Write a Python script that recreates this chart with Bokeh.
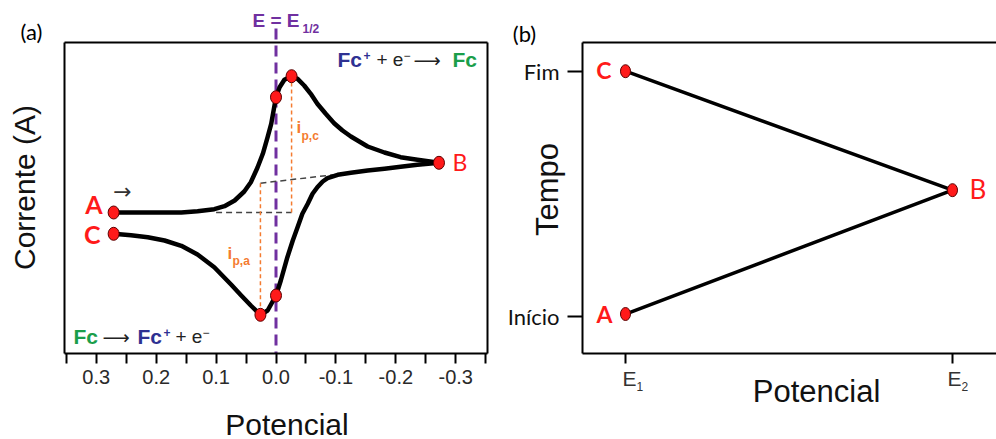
import numpy as np
from bokeh.plotting import figure
from bokeh.models import (Range1d, FixedTicker, Label, LinearAxis,
                          PrintfTickFormatter)
from bokeh.layouts import row
from bokeh.embed import file_html
from bokeh.resources import INLINE

# ---------------- Panel (a): cyclic voltammogram ----------------
# forward scan A -> B (potential in V, current in arbitrary units)
E_forward = [0.271, 0.214, 0.158, 0.131, 0.103, 0.086, 0.069, 0.053, 0.042, 0.031,
             0.022, 0.014, 0.008, 0.003, 0.000, -0.006, -0.014, -0.026, -0.036, -0.047,
             -0.058, -0.069, -0.083, -0.097, -0.111, -0.125, -0.153, -0.181, -0.208,
             -0.236, -0.272]
i_forward = [0.00, 0.00, 0.00, 0.13, 0.33, 0.63, 1.20, 2.10, 3.03, 4.47,
             5.87, 7.53, 8.87, 10.53, 11.53, 12.53, 13.27, 13.63, 13.37, 12.70,
             11.87, 10.87, 9.87, 8.93, 8.20, 7.60, 6.60, 6.00, 5.53,
             5.27, 4.97]
# reverse scan B -> C
E_reverse = [-0.272, -0.236, -0.208, -0.181, -0.153, -0.125, -0.103, -0.086, -0.078,
             -0.069, -0.061, -0.053, -0.044, -0.036, -0.028, -0.019, -0.008, 0.000,
             0.014, 0.026, 0.042, 0.058, 0.075, 0.103, 0.131, 0.158, 0.186, 0.214,
             0.242, 0.271]
i_reverse = [4.97, 4.77, 4.57, 4.37, 4.20, 3.97, 3.77, 3.43, 3.10,
             2.53, 1.87, 0.87, -0.13, -1.47, -2.80, -4.47, -6.80, -8.30,
             -9.80, -10.23, -9.30, -8.30, -7.20, -5.47, -4.20, -3.33, -2.80, -2.47,
             -2.27, -2.13]
E_half = 0.0
E_half_line_top = 18.4              # purple line starts just under its label
baseline_c_start_E = 0.100          # cathodic baseline starts here (i = value at A)
baseline_a_end_E = -0.100           # extrapolated baseline for the anodic peak
baseline_a_i = [2.93, 3.80]         # at anodic peak potential, at end
x_ticks_a = [0.3, 0.2, 0.1, 0.0, -0.1, -0.2, -0.3]
x_minor_a = [0.35, 0.25, 0.15, 0.05, -0.05, -0.15, -0.25, -0.35]
xa = (0.353, -0.353)                # plotted potential window (reversed)
ya = (-14.1, 17.0)                  # plotted current window

# ---------------- Panel (b): potential waveform ----------------
wave_E = [1, 2, 1]
wave_t = [0.02, 1.03, 2.0]
wave_names = ["A", "B", "C"]
x_ticks_b = [1, 2]
y_ticks_b = [0, 2]
y_tick_labels_b = ["Início", "Fim"]
xb = (0.8685, 2.1346)
yb = (-0.302, 2.234)

RED = "#FF1A1A"
PURPLE = "#7030A0"
ORANGE = "#F47B30"
BLUE = "#2E3192"
GREEN = "#1A9E4A"
SANS = "Liberation Sans"
CAL = "Lato"

# frame boxes in page pixels (the figure frame covers the whole canvas;
# the visible boxes are drawn with axes placed at fixed locations)
H = 439
A_L, A_R, TOP, BOT = 64, 487, 42, 353
B_L, B_R = 582, 996


def pa(px, py):
    x = xa[0] + (px - A_L) * (xa[1] - xa[0]) / (A_R - A_L)
    y = ya[1] - (py - TOP) * (ya[1] - ya[0]) / (BOT - TOP)
    return x, y


def pb(px, py):
    x = xb[0] + (px - B_L) * (xb[1] - xb[0]) / (B_R - B_L)
    y = yb[1] - (py - TOP) * (yb[1] - yb[0]) / (BOT - TOP)
    return x, y


def lab(p, conv, px, py, text, size, font=SANS, color="black", style="normal",
        align="left", angle=0.0):
    # (px, py): baseline position in page pixels
    if angle:
        x, y = conv(px - 0.35 * size, py)
    else:
        x, y = conv(px, py - 0.35 * size)
    p.add_layout(Label(x=x, y=y, text=text, text_font=font, text_font_size=f"{size}px",
                       text_color=color, text_font_style=style, text_align=align,
                       text_baseline="middle", angle=angle))


def box_axis(fixed, bounds):
    return LinearAxis(fixed_location=fixed, bounds=bounds,
                      ticker=FixedTicker(ticks=[]), major_tick_line_color=None,
                      minor_tick_line_color=None, major_label_text_font_size="0px",
                      axis_line_width=2, axis_line_color="black")


# ================= figure (a) =================
p1 = figure(width=500, height=H, output_backend="svg", toolbar_location=None,
            x_range=Range1d(pa(0, 0)[0], pa(500, 0)[0]),
            y_range=Range1d(pa(0, H)[1], pa(0, 0)[1]),
            x_axis_location=None, y_axis_location=None,
            min_border=0, min_border_left=0, min_border_right=0,
            min_border_top=0, min_border_bottom=0)
p1.grid.visible = False
p1.outline_line_color = None

ax = LinearAxis(fixed_location=ya[0], bounds=(min(xa), max(xa)),
                ticker=FixedTicker(ticks=x_ticks_a, minor_ticks=x_minor_a),
                formatter=PrintfTickFormatter(format="%.1f"),
                major_tick_out=10, major_tick_in=0, minor_tick_out=10, minor_tick_in=0,
                major_tick_line_width=2, minor_tick_line_width=2, axis_line_width=2,
                major_label_text_font=SANS, major_label_text_font_size="20px",
                major_label_text_color="#2a2a2a", major_label_standoff=6)
p1.add_layout(ax, "below")
p1.add_layout(box_axis(ya[1], (min(xa), max(xa))), "above")
p1.add_layout(box_axis(xa[0], ya), "left")
p1.add_layout(box_axis(xa[1], ya), "right")

k_pc = int(np.argmax(i_forward))
k_pa = int(np.argmin(i_reverse))
k_h1 = E_forward.index(E_half)
k_h2 = E_reverse.index(E_half)

# E1/2 purple dashed line
p1.line([E_half, E_half], [E_half_line_top, ya[0]], line_color=PURPLE, line_width=3,
        line_dash="11 6")
# baselines
p1.line([baseline_c_start_E, E_forward[k_pc]], [i_forward[0], i_forward[0]],
        line_color="#444444", line_width=1.5, line_dash="6 4")
p1.line([E_reverse[k_pa], baseline_a_end_E], baseline_a_i,
        line_color="#444444", line_width=1.5, line_dash="6 4")
# peak currents
p1.line([E_forward[k_pc], E_forward[k_pc]], [i_forward[0], i_forward[k_pc]],
        line_color=ORANGE, line_width=1.5, line_dash="4 3")
p1.line([E_reverse[k_pa], E_reverse[k_pa]], [baseline_a_i[0], i_reverse[k_pa]],
        line_color=ORANGE, line_width=1.5, line_dash="4 3")

# CV curve
p1.line(E_forward, i_forward, line_color="black", line_width=4.5, line_join="round")
p1.line(E_reverse, i_reverse, line_color="black", line_width=4.5, line_join="round")

mx = [E_forward[0], E_forward[-1], E_reverse[-1], E_forward[k_h1], E_forward[k_pc],
      E_reverse[k_h2], E_reverse[k_pa]]
my = [i_forward[0], i_forward[-1], i_reverse[-1], i_forward[k_h1], i_forward[k_pc],
      i_reverse[k_h2], i_reverse[k_pa]]
p1.ellipse(x=mx, y=my, width=11, height=13, width_units="screen",
           height_units="screen", fill_color=RED, line_color="#5A0000", line_width=1)

# texts panel (a)
lab(p1, pa, 31, 39, "(a)", 22, font=CAL, align="center")
lab(p1, pa, 34.5, 187, "Corrente (A)", 30, color="#111111", align="center",
    angle=np.pi / 2)
lab(p1, pa, 286.5, 434, "Potencial", 30, color="#111111", align="center")
lab(p1, pa, 252, 27, "E = E", 19, color=PURPLE, style="bold")
lab(p1, pa, 302, 33, "1/2", 12, color=PURPLE, style="bold")
# Fc+ + e- -> Fc
lab(p1, pa, 337, 66, "Fc", 21, color=BLUE, style="bold")
lab(p1, pa, 363, 59, "+", 12, color=BLUE, style="bold")
lab(p1, pa, 376, 66, "+ e", 19, color="#222222")
lab(p1, pa, 403, 59, "\u2212", 12, color="#222222")
lab(p1, pa, 413, 66, "\u27f6", 19, font="DejaVu Sans", color="#222222")
lab(p1, pa, 452, 66, "Fc", 21, color=GREEN, style="bold")
# Fc -> Fc+ + e-
lab(p1, pa, 73, 343, "Fc", 21, color=GREEN, style="bold")
lab(p1, pa, 102, 343, "\u27f6", 19, font="DejaVu Sans", color="#222222")
lab(p1, pa, 137, 343, "Fc", 21, color=BLUE, style="bold")
lab(p1, pa, 163, 336, "+", 12, color=BLUE, style="bold")
lab(p1, pa, 175, 343, "+ e", 19, color="#222222")
lab(p1, pa, 202, 336, "\u2212", 12, color="#222222")
# point labels
lab(p1, pa, 102, 212, wave_names[0], 25, font=CAL, color=RED, style="bold", align="right")
lab(p1, pa, 100, 242, wave_names[2], 25, font=CAL, color=RED, style="bold", align="right")
lab(p1, pa, 452, 170, wave_names[1], 23, font=CAL, color=RED, align="left")
lab(p1, pa, 122, 199, "\u2192", 22, font="DejaVu Sans", color="#333333", align="center")
# peak current labels
lab(p1, pa, 296, 133, "i", 17, color=ORANGE, style="bold")
lab(p1, pa, 301, 140, "p,c", 12, color=ORANGE, style="bold")
lab(p1, pa, 227, 259, "i", 17, color=ORANGE, style="bold")
lab(p1, pa, 232, 265, "p,a", 12, color=ORANGE, style="bold")

# ================= figure (b) =================
p2 = figure(width=496, height=H, output_backend="svg", toolbar_location=None,
            x_range=Range1d(pb(500, 0)[0], pb(996, 0)[0]),
            y_range=Range1d(pb(0, H)[1], pb(0, 0)[1]),
            x_axis_location=None, y_axis_location=None,
            min_border=0, min_border_left=0, min_border_right=0,
            min_border_top=0, min_border_bottom=0)
p2.grid.visible = False
p2.outline_line_color = None

bx = LinearAxis(fixed_location=yb[0], bounds=xb, ticker=FixedTicker(ticks=x_ticks_b),
                major_label_overrides={1: "", 2: ""}, major_tick_out=10, major_tick_in=0,
                minor_tick_line_color=None, major_tick_line_width=2, axis_line_width=2)
p2.add_layout(bx, "below")
by = LinearAxis(fixed_location=xb[0], bounds=yb, ticker=FixedTicker(ticks=y_ticks_b),
                major_label_overrides=dict(zip(y_ticks_b, y_tick_labels_b)),
                major_tick_out=15, major_tick_in=0, minor_tick_line_color=None,
                major_tick_line_width=2, axis_line_width=2, major_label_standoff=8,
                major_label_text_font=CAL, major_label_text_font_size="22px",
                major_label_text_color="#111111")
p2.add_layout(by, "left")
p2.add_layout(box_axis(yb[1], xb), "above")

p2.line(wave_E, wave_t, line_color="black", line_width=3.5, line_join="round")
p2.ellipse(x=wave_E, y=wave_t, width=10, height=13, width_units="screen",
           height_units="screen", fill_color=RED, line_color="#5A0000", line_width=1)

lab(p2, pb, 524, 41, "(b)", 22, font=CAL, align="center")
lab(p2, pb, 558, 189, "Tempo", 31, color="#111111", align="center", angle=np.pi / 2)
lab(p2, pb, 816, 402, "Potencial", 31, color="#111111", align="center")
lab(p2, pb, 622, 385, "E", 21, color="#333333")
lab(p2, pb, 636, 390, "1", 12, color="#333333")
lab(p2, pb, 947, 385, "E", 21, color="#333333")
lab(p2, pb, 961, 390, "2", 12, color="#333333")
lab(p2, pb, 611, 78, wave_names[2], 23, font=CAL, color=RED, style="bold", align="right")
lab(p2, pb, 612, 322, wave_names[0], 23, font=CAL, color=RED, style="bold", align="right")
lab(p2, pb, 969, 198, wave_names[1], 26, font=CAL, color=RED, align="left")

layout = row(p1, p2)
open("out.html", "w").write(file_html(layout, INLINE))
